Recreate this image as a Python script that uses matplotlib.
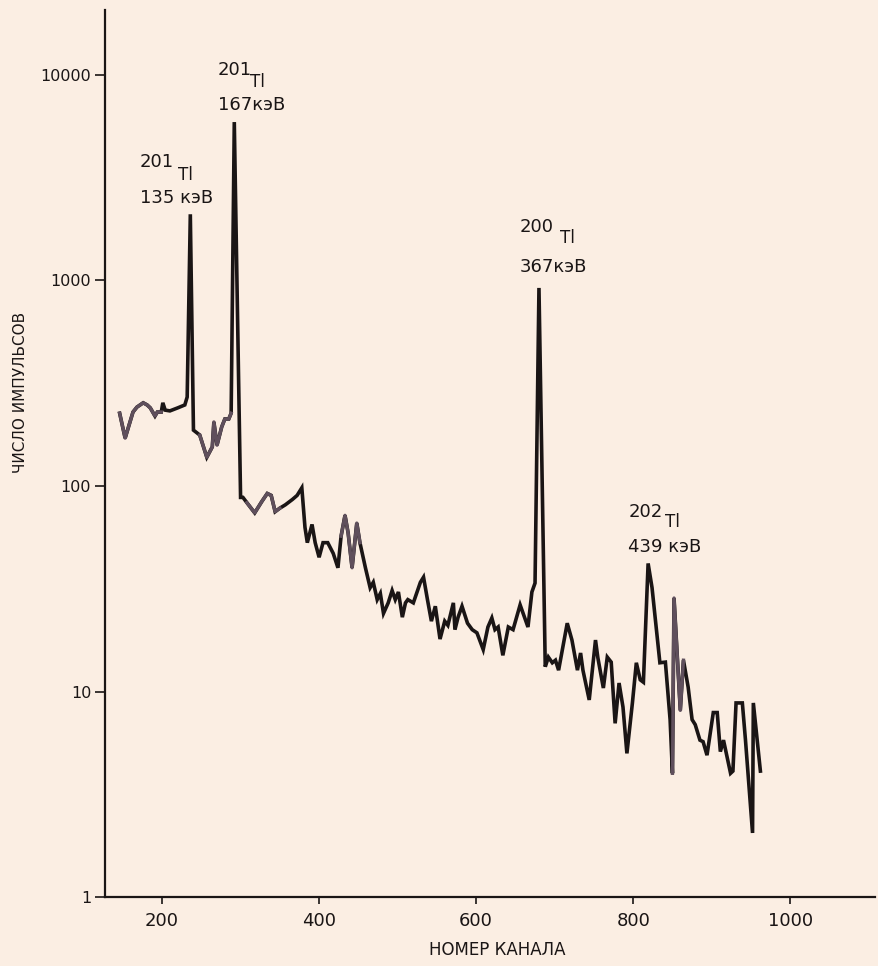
import numpy as np
import matplotlib
matplotlib.use("Agg")
import matplotlib.pyplot as plt

# spectrum: channel number vs counts
channels = [146, 153, 163, 168, 176, 181, 185, 191, 194, 199, 201, 204, 210, 220, 229, 232,
            236, 240, 248, 257, 264, 266, 270, 276, 280, 285, 288, 292, 300,
            303, 308, 318, 327, 334, 339, 344, 350, 357, 366, 372, 378, 382, 385, 391, 395,
            400, 405, 411, 418, 424, 428, 433, 437, 442, 448, 452, 459, 465, 469, 474, 478,
            482, 488, 493, 497, 501, 506, 510, 513, 520, 529, 533, 538, 543, 548, 554, 560,
            564, 571, 573, 577, 582, 589, 595, 601, 609, 615, 620, 624, 628, 634, 641, 647,
            656, 666, 671, 675, 680, 688, 692, 697, 701, 705, 716, 722, 729, 733, 736, 744,
            752, 755, 762, 767, 772, 777, 782, 787, 792, 799, 804, 809, 813, 819, 824, 834,
            841, 847, 850, 852, 860, 864, 870, 875, 879, 885, 889, 894, 902, 907, 911, 915,
            924, 927, 931, 939, 943, 952, 953, 962]
counts = [226, 171, 229, 242, 254, 248, 240, 219, 229, 229, 254, 234, 232, 240, 248, 271,
          2100, 187, 177, 138, 155, 205, 158, 194, 212, 212, 226, 5900, 88,
          88, 83, 74, 84, 92, 90, 75, 78, 81, 86, 90, 98, 63, 53, 65, 53,
          45, 53, 53, 47, 40, 57, 72, 59, 40, 66, 53, 40, 32, 34, 28, 30,
          24, 27, 31, 28, 30.5, 23, 27, 28, 27, 34, 36, 28, 22, 26, 18, 22,
          21, 27, 20, 23, 26, 21.5, 20, 19.3, 16, 20.6, 22.8, 20, 20.6, 15, 20.6, 20,
          26.4, 20.6, 30.5, 33.7, 920, 13.2, 14.7, 13.8, 14.2, 12.7, 21.5, 17.8, 12.7, 15.4, 12.7, 9.1,
          17.8, 14.6, 10.4, 14.7, 13.9, 7.0, 11.0, 8.4, 5.0, 8.8, 13.8, 11.4, 11.1, 42, 32, 13.8,
          13.9, 7.3, 4.0, 28.5, 8.1, 14.2, 10.5, 7.3, 6.9, 5.8, 5.7, 4.9, 7.9, 7.9, 5.1, 5.8,
          4.0, 4.1, 8.8, 8.8, 5.8, 2.05, 8.8, 4.1]

# stretches where the printed trace looks grey instead of black
grey_ranges = [(146, 200), (248, 288), (308, 350), (428, 452), (850, 866)]

peak_labels = [("201", "135 кэВ"), ("201", "167кэВ"), ("200", "367кэВ"), ("202", "439 кэВ")]
label_x = [172, 271, 656, 794]
tl_x = [220, 312, 707, 841]
label_y = [3775, 10570, 1820, 74.7]
tl_y = [3260, 9240, 1610, 66.8]
energy_y = [2520, 7140, 1164, 50.5]

xticks = [200, 400, 600, 800, 1000]
yticks = [1, 10, 100, 1000, 10000]
ytick_labels = ["1", "10", "100", "1000", "10000"]

bg = "#fbeee3"
ink = "#1a1515"
grey = "#5f4f5c"

fig = plt.figure(figsize=(8.79, 9.66), dpi=100, facecolor=bg)
ax = fig.add_axes([0.1195, 0.0714, 0.876, 0.9182], facecolor=bg)

ch = np.array(channels)
ct = np.array(counts)
ax.plot(ch, ct, color=ink, lw=2.6, solid_joinstyle="miter")
for lo, hi in grey_ranges:
    m = (ch >= lo) & (ch <= hi)
    ax.plot(ch[m], ct[m], color=grey, lw=2.4)

ax.set_yscale("log")
ax.set_xlim(127.4, 1108)
ax.set_ylim(1, 20700)

for sp in ["top", "right"]:
    ax.spines[sp].set_visible(False)
for sp in ["left", "bottom"]:
    ax.spines[sp].set_linewidth(1.6)
    ax.spines[sp].set_color(ink)

ax.set_xticks(xticks)
ax.set_yticks(yticks, labels=ytick_labels)
ax.minorticks_off()
ax.tick_params(axis="y", length=7, width=1.2, pad=3, labelsize=11.5, colors=ink)
ax.tick_params(axis="x", length=5, width=1.2, pad=6, labelsize=13, colors=ink)

ax.set_xlabel("НОМЕР КАНАЛА", fontsize=12, color=ink)
ax.xaxis.set_label_coords(0.51, -0.05)
ax.set_ylabel("ЧИСЛО ИМПУЛЬСОВ", fontsize=11, color=ink)
ax.yaxis.set_label_coords(-0.1, 0.569)

for (iso, energy), lx, tx, ly, ty, ey in zip(peak_labels, label_x, tl_x, label_y, tl_y, energy_y):
    ax.text(lx, ly, iso, fontsize=13, color=ink, ha="left", va="center")
    ax.text(tx, ty, "Tl", fontsize=12, color=ink, ha="left", va="center")
    ax.text(lx, ey, energy, fontsize=13, color=ink, ha="left", va="center")

fig.savefig("out.png", dpi=100, facecolor=bg)
